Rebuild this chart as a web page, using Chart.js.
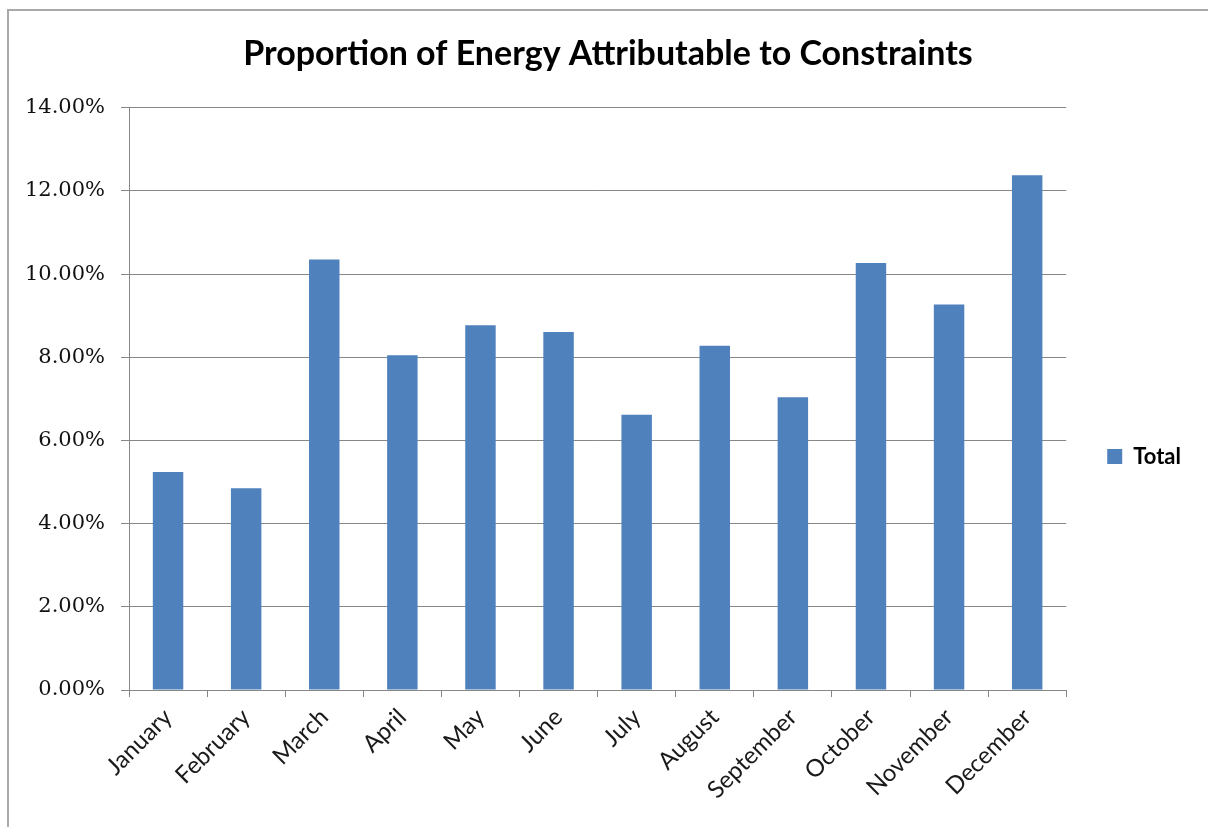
<!DOCTYPE html>
<html>
<head>
<meta charset="utf-8">
<script src="https://cdn.jsdelivr.net/npm/chart.js@4.4.1/dist/chart.umd.min.js"></script>
<style>
  html, body { margin: 0; padding: 0; background: #fff; overflow: hidden; }
  #frame {
    position: absolute; left: 7px; top: 9px; width: 1260px; height: 880px;
    border-left: 2px solid #a9a9a9; border-top: 2px solid #a9a9a9;
  }
  #wrap { position: absolute; left: 0; top: 0; width: 1208px; height: 827px; }
</style>
</head>
<body>
<div id="frame"></div>
<div id="wrap"><canvas id="chart" width="1208" height="827"></canvas></div>
<script>
// Monthly share of energy attributable to constraints (percent)
const months = ['January', 'February', 'March', 'April', 'May', 'June',
                'July', 'August', 'September', 'October', 'November', 'December'];
const totals = [5.24, 4.85, 10.35, 8.05, 8.77, 8.61, 6.62, 8.28, 7.04, 10.27, 9.27, 12.38];
const seriesName = 'Total';
const chartTitle = 'Proportion of Energy Attributable to Constraints';
const yMin = 0, yMax = 14, yStep = 2;

const axisGray = '#878787';

new Chart(document.getElementById('chart'), {
  type: 'bar',
  data: {
    labels: months,
    datasets: [{
      label: seriesName,
      data: totals,
      backgroundColor: '#4f81bd',
      borderWidth: 0,
      barPercentage: 0.39,
      categoryPercentage: 1
    }]
  },
  options: {
    responsive: false,
    animation: false,
    devicePixelRatio: 1,
    layout: { padding: { left: 25, right: 17, top: 0, bottom: 0 } },
    plugins: {
      title: {
        display: true,
        text: chartTitle,
        color: '#000',
        font: { family: 'Lato', size: 34, weight: 'bold' },
        padding: { top: 34, bottom: 33 }
      },
      legend: {
        position: 'right',
        align: 'center',
        // empty title block only nudges the single entry down
        title: { display: true, text: '', font: { size: 10 }, padding: { top: 74, bottom: 0 } },
        labels: {
          boxWidth: 15,
          boxHeight: 15,
          padding: 41,
          color: '#000',
          font: { family: 'Lato', size: 22, weight: 'bold' }
        }
      },
      tooltip: { enabled: false }
    },
    scales: {
      x: {
        grid: {
          offset: true,
          drawOnChartArea: false,
          drawTicks: true,
          tickLength: 7,
          color: axisGray
        },
        border: { color: axisGray, width: 1 },
        ticks: {
          minRotation: 45,
          maxRotation: 45,
          padding: 6,
          color: '#1a1a1a',
          font: { family: 'Lato', size: 24 }
        },
        afterFit: s => { s.height = 137; }
      },
      y: {
        min: yMin,
        max: yMax,
        grid: { color: axisGray, tickLength: 8, lineWidth: 1 },
        border: { color: axisGray, width: 1 },
        ticks: {
          stepSize: yStep,
          padding: 16,
          color: '#111',
          font: { family: 'DejaVu Serif', size: 21 },
          callback: v => v.toFixed(2) + '%'
        },
        afterFit: s => { s.width = 104; }
      }
    }
  }
});
</script>
</body>
</html>
